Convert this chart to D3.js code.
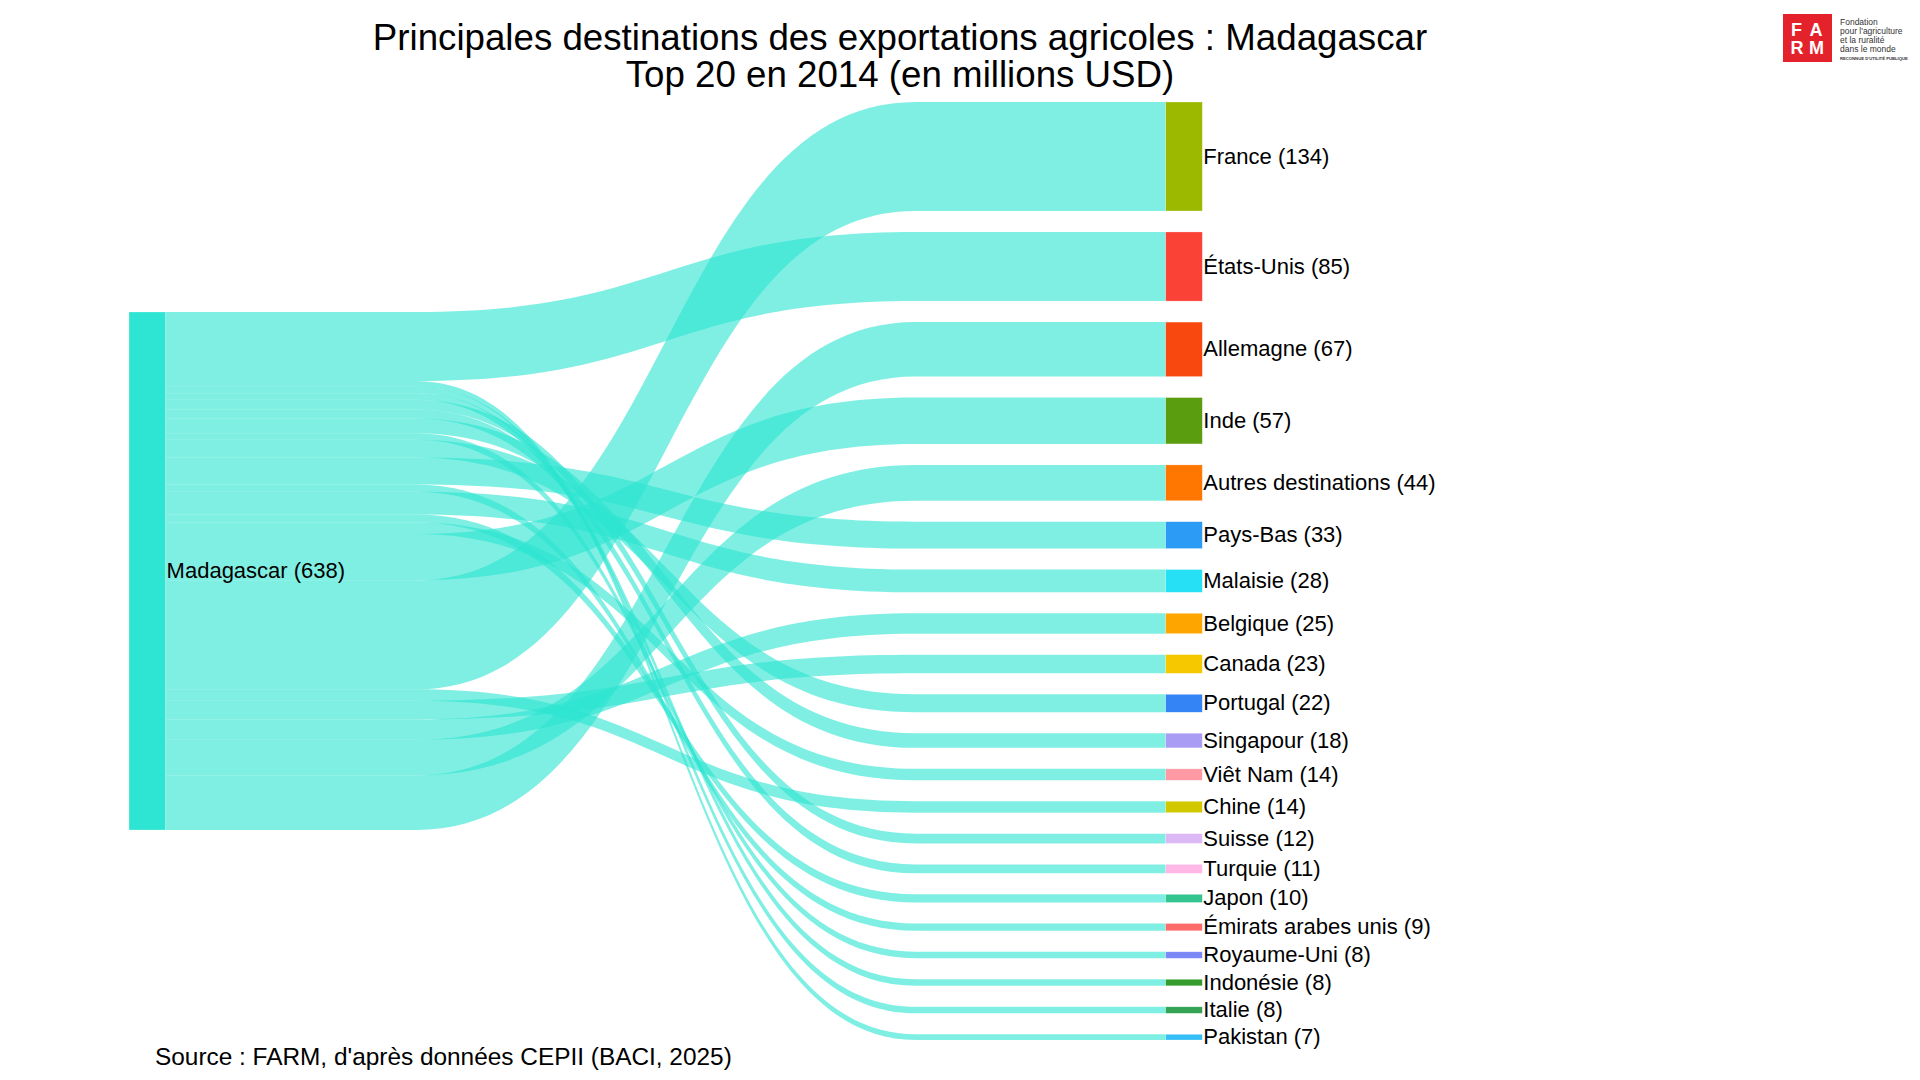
<!DOCTYPE html>
<html>
<head>
<meta charset="utf-8">
<script src="https://cdn.jsdelivr.net/npm/d3@7"></script>
<style>
  html, body { margin: 0; padding: 0; background: #fff; }
  svg { display: block; font-family: "Liberation Sans", Arial, sans-serif; }
</style>
</head>
<body>
<svg id="chart" width="1920" height="1080"></svg>
<script>
// destinations, in the order of the right column
const destinations = ["France", "États-Unis", "Allemagne", "Inde", "Autres destinations",
  "Pays-Bas", "Malaisie", "Belgique", "Canada", "Portugal", "Singapour", "Viêt Nam",
  "Chine", "Suisse", "Turquie", "Japon", "Émirats arabes unis", "Royaume-Uni",
  "Indonésie", "Italie", "Pakistan"];
const exportValues = [134, 85, 67, 57, 44, 33, 28, 25, 23, 22, 18, 14, 14, 12, 11, 10, 9, 8, 8, 8, 7];
const nodeColors = ["#9cb900", "#fb4236", "#f9480f", "#5a9e0f", "#ff7700", "#2b9bf5",
  "#26e0f5", "#ffa500", "#f5c800", "#3584f5", "#a99cf5", "#ff9aa5", "#d2c800",
  "#dcb8f5", "#ffb8e6", "#33c48f", "#ff6b6b", "#7b88f5", "#339c2b", "#35a354", "#35bff5"];

const sourceName = "Madagascar";
const sourceTotal = 638;
// order in which the flows leave the source node (top to bottom)
const sourceOrder = ["États-Unis", "Pakistan", "Italie", "Indonésie", "Suisse", "Turquie",
  "Singapour", "Royaume-Uni", "Portugal", "Pays-Bas", "Émirats arabes unis", "Malaisie",
  "Japon", "Viêt Nam", "Inde", "France", "Chine", "Canada", "Belgique",
  "Autres destinations", "Allemagne"];

const titleLines = ["Principales destinations des exportations agricoles : Madagascar",
  "Top 20 en 2014 (en millions USD)"];
const sourceNote = "Source : FARM, d'après données CEPII (BACI, 2025)";

const svg = d3.select("#chart");

const nodeW = 36.6, pad = 21;
const colTop = 102, colBottom = 1040;
const x = d3.scaleLinear().domain([0, 1]).range([129, 1165.7]);
const total = d3.sum(exportValues);
const k = (colBottom - colTop - pad * (destinations.length - 1)) / total;
const h = d3.scaleLinear().domain([0, total]).range([0, total * k]);

// right column nodes
let yy = colTop;
const targets = destinations.map((name, i) => {
  const n = {name, value: exportValues[i], color: nodeColors[i], y0: yy, y1: yy + h(exportValues[i])};
  yy = n.y1 + pad;
  return n;
});
const byName = new Map(targets.map(d => [d.name, d]));

// source node, centred on the column
const mid = (colTop + colBottom) / 2;
const src = {name: sourceName, y0: mid - h(total) / 2, y1: mid + h(total) / 2};

let sy = src.y0;
const links = sourceOrder.map(name => {
  const t = byName.get(name);
  const l = {t, s0: sy, s1: sy + h(t.value)};
  sy = l.s1;
  return l;
});

// flat run at both ends, the bend sits in the middle half
const flat = 0.25;
function linkPath(l) {
  const x0 = x(0) + nodeW, x1 = x(1);
  const xa = x0 + (x1 - x0) * flat, xb = x1 - (x1 - x0) * flat, xm = (x0 + x1) / 2;
  const p = d3.path();
  p.moveTo(x0, l.s0);
  p.lineTo(xa, l.s0);
  p.bezierCurveTo(xm, l.s0, xm, l.t.y0, xb, l.t.y0);
  p.lineTo(x1, l.t.y0);
  p.lineTo(x1, l.t.y1);
  p.lineTo(xb, l.t.y1);
  p.bezierCurveTo(xm, l.t.y1, xm, l.s1, xa, l.s1);
  p.lineTo(x0, l.s1);
  p.closePath();
  return p.toString();
}

svg.append("g").selectAll("path")
  .data(links).join("path")
  .attr("d", linkPath)
  .attr("fill", "rgba(43,228,208,0.6)");

svg.append("rect")
  .attr("x", x(0)).attr("y", src.y0)
  .attr("width", nodeW).attr("height", src.y1 - src.y0)
  .attr("fill", "#2de5d2")
  .attr("stroke", "rgba(255,255,255,0.5)").attr("stroke-width", 0.5);

svg.append("g").selectAll("rect")
  .data(targets).join("rect")
  .attr("x", x(1)).attr("y", d => d.y0)
  .attr("width", nodeW).attr("height", d => d.y1 - d.y0)
  .attr("fill", d => d.color)
  .attr("stroke", "rgba(255,255,255,0.5)").attr("stroke-width", 0.5);

// labels
svg.append("text")
  .attr("x", x(0) + nodeW + 1).attr("y", (src.y0 + src.y1) / 2)
  .attr("dy", "0.32em").attr("font-size", 22).attr("fill", "#000")
  .text(`${sourceName} (${sourceTotal})`);

svg.append("g").selectAll("text")
  .data(targets).join("text")
  .attr("x", x(1) + nodeW + 1).attr("y", d => (d.y0 + d.y1) / 2)
  .attr("dy", "0.32em").attr("font-size", 22).attr("fill", "#000")
  .text(d => `${d.name} (${d.value})`);

// title
svg.append("g").selectAll("text")
  .data(titleLines).join("text")
  .attr("x", 900).attr("y", (d, i) => 50 + i * 37.3)
  .attr("text-anchor", "middle").attr("font-size", 36.7).attr("fill", "#000")
  .text(d => d);

svg.append("text")
  .attr("x", 155).attr("y", 1065)
  .attr("font-size", 24.4).attr("fill", "#000")
  .text(sourceNote);

// FARM logo
const logo = svg.append("g");
logo.append("rect").attr("x", 1783).attr("y", 14).attr("width", 49).attr("height", 48).attr("fill", "#e3222b");
[["F", 1796.5, 36], ["A", 1816, 36], ["R", 1797, 53.5], ["M", 1816.5, 53.5]].forEach(([c, lx, ly]) => {
  logo.append("text").attr("x", lx).attr("y", ly).attr("text-anchor", "middle")
    .attr("font-size", 18).attr("font-weight", "bold").attr("fill", "#fff").text(c);
});
["Fondation", "pour l'agriculture", "et la ruralité", "dans le monde"].forEach((t, i) => {
  logo.append("text").attr("x", 1840).attr("y", 25 + i * 9).attr("font-size", 8.5)
    .attr("fill", "#333").text(t);
});
logo.append("text").attr("x", 1840).attr("y", 59.5).attr("font-size", 4.2)
  .attr("font-weight", "bold").attr("fill", "#333").text("RECONNUE D'UTILITÉ PUBLIQUE");
</script>
</body>
</html>
